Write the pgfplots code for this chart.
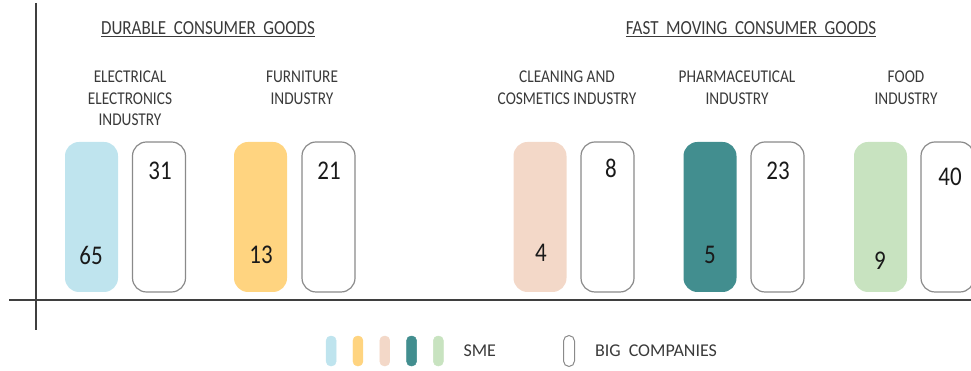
\documentclass[border=0pt]{standalone}
\usepackage{pgfplots}
\pgfplotsset{compat=1.18}
\usepackage{pgfplotstable}
\usepackage{graphicx}
\usepackage{fontspec}
\setmainfont{Carlito}
\newcommand{\sq}[1]{\scalebox{0.85}[1]{#1}}
\definecolor{smeA}{HTML}{BFE4EE}
\definecolor{smeB}{HTML}{FFD480}
\definecolor{smeC}{HTML}{F3D8C8}
\definecolor{smeD}{HTML}{428E8F}
\definecolor{smeE}{HTML}{C8E3C0}
\definecolor{outl}{HTML}{8A8A8A}
\definecolor{axcol}{HTML}{3F3F3F}
\definecolor{labcol}{HTML}{3A3A3A}
\definecolor{numcol}{HTML}{1A1A1A}

% SME: bar centre, bar height (all bars equal), label position, value
\pgfplotstableread{
x     h    lx   ly   val
91.5  150  91   37   65
260.5 150  261  37   13
540   150  541  39   4
710   150  710  37   5
880.5 150  880  31   9
}\smedata
% Big companies
\pgfplotstableread{
x     h    lx   ly   val
159   150  160  121  31
328.5 150  329  121  21
607.5 150  611  124  8
777.5 150  778  121  23
947.5 150  950  115  40
}\bigdata

\newcommand{\lab}[3]{\node[anchor=base, font=\fontsize{18}{20}\selectfont, text=labcol, inner sep=0pt] at (axis cs:#1,{292-#2}) {\sq{#3}};}

\begin{document}
\begin{tikzpicture}
\begin{axis}[
  width=971pt, height=371pt, scale only axis,
  xmin=0, xmax=971, ymin=-79, ymax=292,
  axis lines=none,
  sme/.style={ybar, bar width=53, draw=none, rounded corners=14pt, forget plot},
  legend style={draw=none, fill=none, inner sep=0pt, outer sep=0pt,
    at={(axis description cs:0.3357,0.0539)}, anchor=west,
    font=\fontsize{18}{20}\selectfont, text=labcol,
    nodes={inner sep=0pt},
    /tikz/every odd column/.append style={column sep=20pt},
    /tikz/every even column/.append style={column sep=67pt}},
  legend columns=2,
]
% axis lines
\draw[axcol, line width=1.3pt] (axis cs:36,289) -- (axis cs:36,-38);
\draw[axcol, line width=1.3pt] (axis cs:9,-8) -- (axis cs:971,-8);

% SME bars
\addplot[sme, fill=smeA] coordinates {(91.5,150)};
\addplot[sme, fill=smeB] coordinates {(260.5,150)};
\addplot[sme, fill=smeC] coordinates {(540,150)};
\addplot[sme, fill=smeD] coordinates {(710,150)};
\addplot[sme, fill=smeE] coordinates {(880.5,150)};
% Big company bars
\addplot[ybar, bar width=53, draw=outl, line width=1.2pt, fill=white, rounded corners=14pt, forget plot]
  table[x=x, y=h] {\bigdata};

% value labels
\addplot[draw=none, mark=none, forget plot, point meta=explicit symbolic,
  nodes near coords={\sq{\pgfplotspointmeta}},
  every node near coord/.append style={anchor=center, inner sep=0pt, font=\fontsize{27}{30}\selectfont, text=numcol}]
  table[x=lx, y=ly, meta=val] {\smedata};
\addplot[draw=none, mark=none, forget plot, point meta=explicit symbolic,
  nodes near coords={\sq{\pgfplotspointmeta}},
  every node near coord/.append style={anchor=center, inner sep=0pt, font=\fontsize{27}{30}\selectfont, text=numcol}]
  table[x=lx, y=ly, meta=val] {\bigdata};

% group titles
\node[anchor=base, font=\fontsize{20}{24}\selectfont, text=labcol, inner sep=0pt] at (axis cs:208,{292-35})
  {\sq{\underline{DURABLE\hspace{0.45em}CONSUMER\hspace{0.45em}GOODS}}};
\node[anchor=base, font=\fontsize{20}{24}\selectfont, text=labcol, inner sep=0pt] at (axis cs:751,{292-35})
  {\sq{\underline{FAST\hspace{0.45em}MOVING\hspace{0.45em}CONSUMER\hspace{0.45em}GOODS}}};

% category labels
\lab{130}{83}{ELECTRICAL}
\lab{130}{105}{ELECTRONICS}
\lab{130}{126}{INDUSTRY}
\lab{302}{83}{FURNITURE}
\lab{302}{105}{INDUSTRY}
\lab{567}{83}{CLEANING AND}
\lab{567}{105}{COSMETICS INDUSTRY}
\lab{737}{83}{PHARMACEUTICAL}
\lab{737}{105}{INDUSTRY}
\lab{906}{83}{FOOD}
\lab{906}{105}{INDUSTRY}

% legend
\addlegendimage{legend image code/.code={
  \foreach \c [count=\i from 0] in {smeA,smeB,smeC,smeD,smeE}
    \fill[\c, rounded corners=4.5pt] (\i*26.8pt,-15pt) rectangle ++(10pt,30pt);
}}
\addlegendentry{SME}
\addlegendimage{legend image code/.code={
  \draw[outl, line width=1pt, rounded corners=5.5pt] (0.5pt,-15.5pt) rectangle ++(11pt,31pt);
}}
\addlegendentry{BIG\hspace{0.45em}COMPANIES}
\end{axis}
\pgfresetboundingbox
\path (current axis.south west) rectangle (current axis.north east);
\end{tikzpicture}
\end{document}
